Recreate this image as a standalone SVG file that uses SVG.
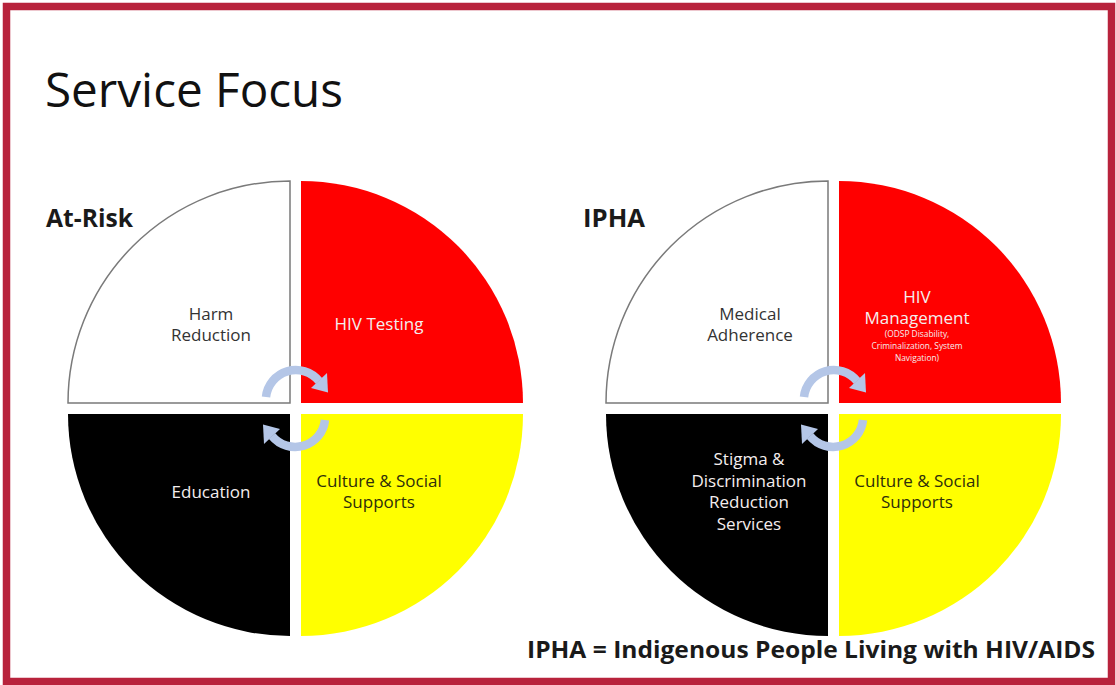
<svg xmlns="http://www.w3.org/2000/svg" width="1116" height="685" viewBox="0 0 1116 685">
<defs>
<style>
.t{font-family:"Open Sans","Liberation Sans",sans-serif;text-anchor:middle;font-size:17px;font-weight:500}
.dk{fill:#333333}
.wt{fill:#f4eeee}
.yl{fill:#2e2e0a}
.sm{font-size:8.4px;font-weight:400}
.q{stroke:none}
.wq{fill:#ffffff;stroke:#7a7a7a;stroke-width:1.5}
.arc{fill:none;stroke:#b4c6e7;stroke-width:8.5}
.head{fill:#b4c6e7}
</style>
<g id="arrowpair">
<path class="arc" d="M266,397 A30,30 0 0 1 319,381"/>
<polygon class="head" points="327,373 311,388 328,392.5"/>
<g transform="rotate(180,295.5,408.5)">
<path class="arc" d="M266,397 A30,30 0 0 1 319,381"/>
<polygon class="head" points="327,373 311,388 328,392.5"/>
</g>
</g>
</defs>
<rect x="0" y="0" width="1116" height="685" fill="#ffffff"/>
<rect x="6.5" y="6.5" width="1105" height="675" fill="#ffffff" stroke="#b8233c" stroke-width="7.5"/>
<text id="title" x="45" y="107" font-family="'Open Sans','Liberation Sans',sans-serif" font-size="48" fill="#111111" textLength="298" lengthAdjust="spacingAndGlyphs">Service Focus</text>
<text id="label-atrisk" x="46" y="227" font-family="'Open Sans','Liberation Sans',sans-serif" font-size="25" font-weight="bold" fill="#1a1a1a" textLength="87" lengthAdjust="spacingAndGlyphs">At-Risk</text>
<text id="label-ipha" x="583" y="227" font-family="'Open Sans','Liberation Sans',sans-serif" font-size="25" font-weight="bold" fill="#1a1a1a" textLength="62" lengthAdjust="spacingAndGlyphs">IPHA</text>

<g id="circle-atrisk">
<g id="harm-reduction">
<path class="wq" d="M290,403 L290,181 A222,222 0 0 0 68,403 Z"/>
<text class="t dk" x="211" y="320">Harm</text>
<text class="t dk" x="211" y="341">Reduction</text>
</g>
<g id="hiv-testing">
<path class="q" fill="#ff0000" d="M301,403 L301,181 A222,222 0 0 1 523,403 Z"/>
<text class="t wt" x="379" y="330">HIV Testing</text>
</g>
<g id="education">
<path class="q" fill="#000000" d="M290,414 L68,414 A222,222 0 0 0 290,636 Z"/>
<text class="t wt" x="211" y="498">Education</text>
</g>
<g id="culture-left">
<path class="q" fill="#ffff00" d="M301,414 L523,414 A222,222 0 0 1 301,636 Z"/>
<text class="t yl" x="379" y="487">Culture &amp; Social</text>
<text class="t yl" x="379" y="508">Supports</text>
</g>
</g>

<g id="circle-ipha">
<g id="medical-adherence">
<path class="wq" d="M828,403 L828,181 A222,222 0 0 0 606,403 Z"/>
<text class="t dk" x="750" y="320">Medical</text>
<text class="t dk" x="750" y="341">Adherence</text>
</g>
<g id="hiv-management">
<path class="q" fill="#ff0000" d="M839,403 L839,181 A222,222 0 0 1 1061,403 Z"/>
<text class="t wt" x="917" y="303" font-size="18">HIV</text>
<text class="t wt" x="917" y="324" font-size="18">Management</text>
<text class="t wt sm" x="917" y="337">(ODSP Disability,</text>
<text class="t wt sm" x="917" y="349">Criminalization, System</text>
<text class="t wt sm" x="917" y="361">Navigation)</text>
</g>
<g id="stigma">
<path class="q" fill="#000000" d="M828,414 L606,414 A222,222 0 0 0 828,636 Z"/>
<text class="t wt" x="749" y="465">Stigma &amp;</text>
<text class="t wt" x="749" y="487">Discrimination</text>
<text class="t wt" x="749" y="508">Reduction</text>
<text class="t wt" x="749" y="530">Services</text>
</g>
<g id="culture-right">
<path class="q" fill="#ffff00" d="M839,414 L1061,414 A222,222 0 0 1 839,636 Z"/>
<text class="t yl" x="917" y="487">Culture &amp; Social</text>
<text class="t yl" x="917" y="508">Supports</text>
</g>
</g>

<g id="connectors">
<use href="#arrowpair"/>
<use href="#arrowpair" transform="translate(538,0)"/>
</g>

<text id="footer" x="527" y="658" font-family="'Open Sans','Liberation Sans',sans-serif" font-size="23" font-weight="bold" fill="#1a1a1a" textLength="568" lengthAdjust="spacingAndGlyphs">IPHA = Indigenous People Living with HIV/AIDS</text>
</svg>
